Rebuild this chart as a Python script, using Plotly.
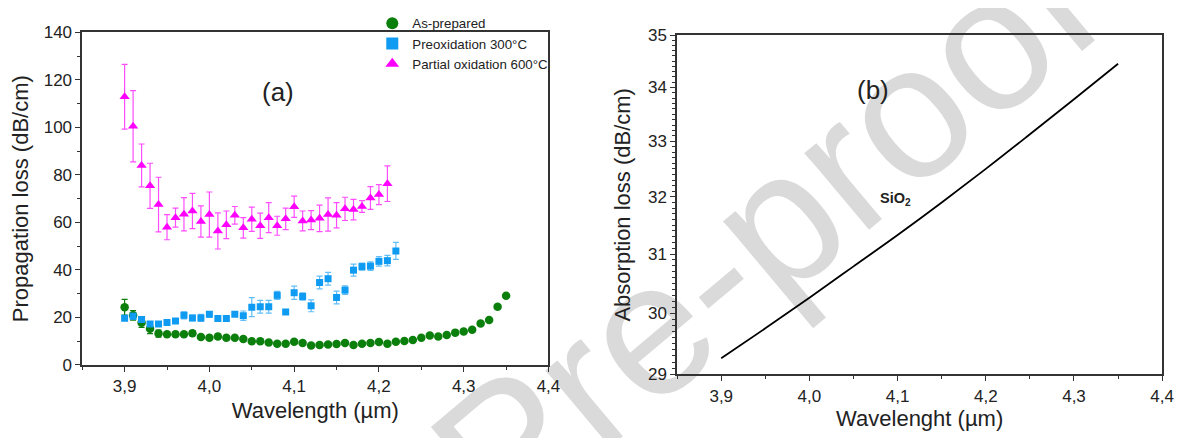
import plotly.graph_objects as go

# ---------------- Panel (a) data ----------------
wl_as = [3.90, 3.91, 3.92, 3.93, 3.94, 3.95, 3.96, 3.97, 3.98, 3.99,
         4.00, 4.01, 4.02, 4.03, 4.04, 4.05, 4.06, 4.07, 4.08, 4.09,
         4.10, 4.11, 4.12, 4.13, 4.14, 4.15, 4.16, 4.17, 4.18, 4.19,
         4.20, 4.21, 4.22, 4.23, 4.24, 4.25, 4.26, 4.27, 4.28, 4.29,
         4.30, 4.31, 4.32, 4.33, 4.34, 4.35]
as_prepared = [24.3, 20.9, 17.8, 15.2, 13.2, 12.9, 12.9, 12.9, 13.3, 11.8,
               11.4, 12.0, 11.4, 11.4, 10.9, 10.0, 10.0, 9.4, 8.9, 8.9,
               9.8, 9.2, 8.2, 8.4, 8.6, 8.8, 9.2, 8.4, 8.9, 9.2,
               9.7, 8.9, 9.8, 10.1, 10.5, 11.4, 12.4, 12.0, 12.6, 13.6,
               14.1, 14.8, 17.4, 18.9, 24.5, 29.1]
as_err = [3.3, 2.0, 2.0, 2.0, 1.5, 1.0, 0.8, 0.8, 1.0, 0.8,
          0.8, 1.0, 0.8, 0.8, 0.8, 0.8, 0.8, 0.8, 0.8, 0.8,
          0.8, 0.8, 0.8, 0.8, 0.8, 0.8, 0.8, 0.8, 0.8, 0.8,
          0.8, 0.8, 0.8, 0.8, 0.8, 0.8, 0.8, 0.8, 0.8, 0.8,
          0.8, 0.8, 0.8, 0.8, 0.8, 0.8]

wl_pre = [3.90, 3.91, 3.92, 3.93, 3.94, 3.95, 3.96, 3.97, 3.98, 3.99,
          4.00, 4.01, 4.02, 4.03, 4.04, 4.05, 4.06, 4.07, 4.08, 4.09,
          4.10, 4.11, 4.12, 4.13, 4.14, 4.15, 4.16, 4.17, 4.18, 4.19,
          4.20, 4.21, 4.22]
preox = [19.7, 20.5, 19.1, 17.2, 17.2, 17.9, 18.5, 20.9, 19.8, 19.8,
         21.3, 19.5, 19.5, 21.3, 20.7, 24.3, 24.5, 24.5, 29.3, 22.3,
         30.4, 28.8, 24.9, 34.7, 36.3, 28.4, 31.5, 39.9, 41.4, 41.6,
         43.6, 43.9, 48.0]
preox_err = [1.0, 1.2, 1.0, 1.0, 0.8, 0.8, 0.8, 1.5, 1.2, 1.5,
             1.2, 1.2, 0.8, 0.8, 2.0, 4.0, 2.7, 2.7, 1.7, 0.8,
             2.8, 1.5, 2.5, 2.7, 2.7, 2.7, 1.8, 2.5, 1.5, 1.8,
             2.0, 2.2, 3.6]

wl_part = [3.90, 3.91, 3.92, 3.93, 3.94, 3.95, 3.96, 3.97, 3.98, 3.99,
           4.00, 4.01, 4.02, 4.03, 4.04, 4.05, 4.06, 4.07, 4.08, 4.09,
           4.10, 4.11, 4.12, 4.13, 4.14, 4.15, 4.16, 4.17, 4.18, 4.19,
           4.20, 4.21]
partial = [112.9, 100.5, 84.0, 75.4, 67.5, 58.0, 62.0, 63.4, 64.8, 60.4,
           63.3, 56.4, 59.0, 63.0, 57.7, 61.3, 58.6, 62.0, 58.6, 61.5,
           66.6, 60.6, 61.0, 61.7, 63.3, 63.0, 65.7, 65.4, 66.7, 70.3,
           71.7, 76.3]
partial_err = [13.6, 15.0, 9.0, 9.5, 11.5, 5.3, 4.0, 7.0, 7.4, 6.6,
               9.5, 7.6, 5.8, 3.7, 4.3, 5.1, 5.3, 6.3, 4.0, 4.5,
               4.5, 4.2, 4.0, 5.6, 7.0, 5.3, 4.9, 4.3, 2.5, 4.8,
               4.2, 7.5]

# ---------------- Panel (b) data ----------------
wl_b = [3.90, 3.95, 4.00, 4.05, 4.10, 4.15, 4.20, 4.25, 4.30, 4.35]
abs_sio2 = [29.26, 29.75, 30.26, 30.79, 31.33, 31.90, 32.50, 33.13, 33.78, 34.45]

x_ticks = [3.9, 4.0, 4.1, 4.2, 4.3, 4.4]
x_ticktext = ["3,9", "4,0", "4,1", "4,2", "4,3", "4,4"]
ya_ticks = [0, 20, 40, 60, 80, 100, 120, 140]
yb_ticks = [29, 30, 31, 32, 33, 34, 35]
yb_minor = [round(29 + 0.1 * i, 1) for i in range(61) if i % 10 != 0]

FONT = "Arial, Liberation Sans, sans-serif"
AX = "#333333"
TICKFONT = dict(family=FONT, size=17, color="#222")
TITLEFONT = dict(family=FONT, size=22, color="#222")

fig = go.Figure()

fig.add_trace(go.Scatter(
    x=wl_as, y=as_prepared, mode="markers", name="As-prepared",
    marker=dict(symbol="circle", size=8.5, color="#0b7f0b"),
    error_y=dict(type="data", array=as_err, color="#0b7f0b", thickness=1.2, width=3),
    xaxis="x", yaxis="y"))
fig.add_trace(go.Scatter(
    x=wl_pre, y=preox, mode="markers", name="Preoxidation 300°C",
    marker=dict(symbol="square", size=7, color="#0f9bf2"),
    error_y=dict(type="data", array=preox_err, color="rgba(15,155,242,0.65)", thickness=1.2, width=3),
    xaxis="x", yaxis="y"))
fig.add_trace(go.Scatter(
    x=wl_part, y=partial, mode="markers", name="Partial oxidation 600°C",
    marker=dict(symbol="triangle-up", size=9, color="#ff00ff"),
    error_y=dict(type="data", array=partial_err, color="rgba(255,0,255,0.7)", thickness=1.2, width=3),
    xaxis="x", yaxis="y"))

fig.add_trace(go.Scatter(
    x=wl_b, y=abs_sio2, mode="lines", name="SiO2", showlegend=False,
    line=dict(color="black", width=1.8, shape="spline"),
    xaxis="x2", yaxis="y2"))

common_x = dict(
    range=[3.85, 4.4], tickvals=x_ticks, ticktext=x_ticktext,
    ticks="outside", ticklen=5, tickwidth=1, tickcolor=AX,
    minor=dict(dtick=0.05, tick0=3.85, ticks="outside", ticklen=3, tickcolor=AX),
    showline=True, linecolor=AX, linewidth=1.5, mirror=True,
    showgrid=False, zeroline=False,
    tickfont=TICKFONT,
)

fig.update_layout(
    width=1184, height=438,
    margin=dict(l=0, r=0, t=0, b=0),
    paper_bgcolor="white", plot_bgcolor="rgba(0,0,0,0)",
    font=dict(family=FONT, color="#222"),
    xaxis=dict(common_x, domain=[75/1184, 546/1184], anchor="y",
               title=dict(text="Wavelength (µm)", font=TITLEFONT, standoff=8)),
    yaxis=dict(domain=[1-363/438, 1-12/438], anchor="x", range=[0, 140],
               tickvals=ya_ticks, ticks="outside", ticklen=5, tickwidth=1, tickcolor=AX,
               minor=dict(dtick=10, ticks="outside", ticklen=3, tickcolor=AX),
               showline=True, linecolor=AX, linewidth=1.5, mirror=True,
               showgrid=False, zeroline=False,
               tickfont=TICKFONT,
               title=dict(text="Propagation loss (dB/cm)", font=TITLEFONT, standoff=10)),
    xaxis2=dict(common_x, domain=[676/1184, 1166/1184], anchor="y2",
                title=dict(text="Wavelenght (µm)", font=TITLEFONT, standoff=1)),
    yaxis2=dict(domain=[1-373/438, 1-15/438], anchor="x2", type="log",
                range=[1.462398, 1.544068],
                tickvals=yb_ticks, ticktext=[str(v) for v in yb_ticks],
                ticks="outside", ticklen=5, tickwidth=1, tickcolor=AX,
                minor=dict(tickvals=yb_minor, ticks="outside", ticklen=3, tickcolor=AX),
                showline=True, linecolor=AX, linewidth=1.5, mirror=True,
                showgrid=False, zeroline=False,
                tickfont=TICKFONT,
                title=dict(text="Absorption loss (dB/cm)", font=TITLEFONT, standoff=11)),
    legend=dict(x=368/1184, y=1+14/438, xanchor="left", yanchor="top",
                bgcolor="rgba(0,0,0,0)", font=dict(family=FONT, size=13.3, color="#222"),
                tracegroupgap=0, itemsizing="constant"),
    showlegend=True,
)

# watermark drawn as a label of an invisible shape placed below everything else
cx, cy = 752/1184, 1-208/438
fig.add_shape(type="rect", xref="paper", yref="paper",
              x0=cx-0.05, x1=cx+0.05, y0=cy-0.05, y1=cy+0.05,
              line=dict(width=0), fillcolor="rgba(0,0,0,0)", layer="below",
              label=dict(text="Pre-proof", textangle=-40, textposition="middle center",
                         font=dict(family=FONT, size=190, color="#dadada")))

fig.add_annotation(x=273/1184, y=1-75/438, xref="paper", yref="paper", text="(a)",
                   xanchor="center", yanchor="middle",
                   showarrow=False, font=dict(family=FONT, size=26, color="#222"))
fig.add_annotation(x=874/1184, y=1-73/438, xref="paper", yref="paper", text="(b)",
                   xanchor="center", yanchor="middle",
                   showarrow=False, font=dict(family=FONT, size=26, color="#222"))
fig.add_annotation(x=897/1184, y=1-188/438, xref="paper", yref="paper",
                   text="<b>SiO<sub>2</sub></b>", xanchor="center", yanchor="middle",
                   showarrow=False, font=dict(family=FONT, size=14.5, color="#222"))

fig.write_html("out.html")
